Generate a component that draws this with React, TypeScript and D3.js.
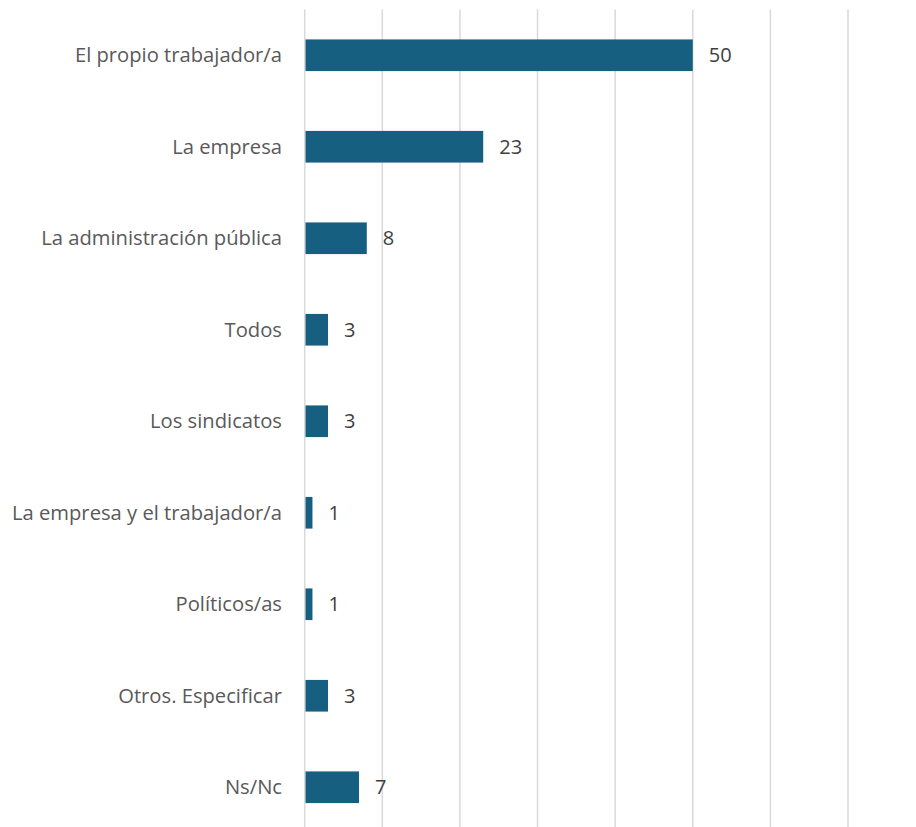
import React from "react";
import * as d3 from "d3";

const categories = [
  "El propio trabajador/a",
  "La empresa",
  "La administración pública",
  "Todos",
  "Los sindicatos",
  "La empresa y el trabajador/a",
  "Políticos/as",
  "Otros. Especificar",
  "Ns/Nc",
];
const values = [50, 23, 8, 3, 3, 1, 1, 3, 7];
const gridTicks = [0, 10, 20, 30, 40, 50, 60, 70];

const W = 916;
const H = 827;
const FONT = "'Open Sans', 'Noto Sans', sans-serif";

export default function App() {
  const x = d3.scaleLinear().domain([0, 70]).range([304.7, 848]);
  const y = d3
    .scaleBand<string>()
    .domain(categories)
    .range([9.5, 9.5 + 91.5 * 9])
    .paddingInner(0.654)
    .paddingOuter(0.327);
  return (
    <svg
      width={W}
      height={H}
      style={{ position: "absolute", left: 0, top: 0, background: "#fff" }}
      fontFamily={FONT}
    >
      {gridTicks.map((t) => (
        <line
          key={t}
          x1={x(t)}
          x2={x(t)}
          y1={9.5}
          y2={H + 10}
          stroke="#d9d9d9"
          strokeWidth={1.5}
        />
      ))}
      {categories.map((c, i) => {
        const yy = y(c)!;
        const bh = y.bandwidth();
        return (
          <g key={c}>
            <rect
              x={x(0) + 0.8}
              y={yy}
              width={x(values[i]) - x(0) - 0.8}
              height={bh}
              fill="#165F80"
            />
            <text
              x={282}
              y={yy + bh / 2}
              dy="0.35em"
              textAnchor="end"
              fontSize={20.2}
              fill="#595959"
            >
              {c}
            </text>
            <text
              x={x(values[i]) + 16}
              y={yy + bh / 2}
              dy="0.35em"
              textAnchor="start"
              fontSize={20}
              fill="#404040"
            >
              {values[i]}
            </text>
          </g>
        );
      })}
    </svg>
  );
}
